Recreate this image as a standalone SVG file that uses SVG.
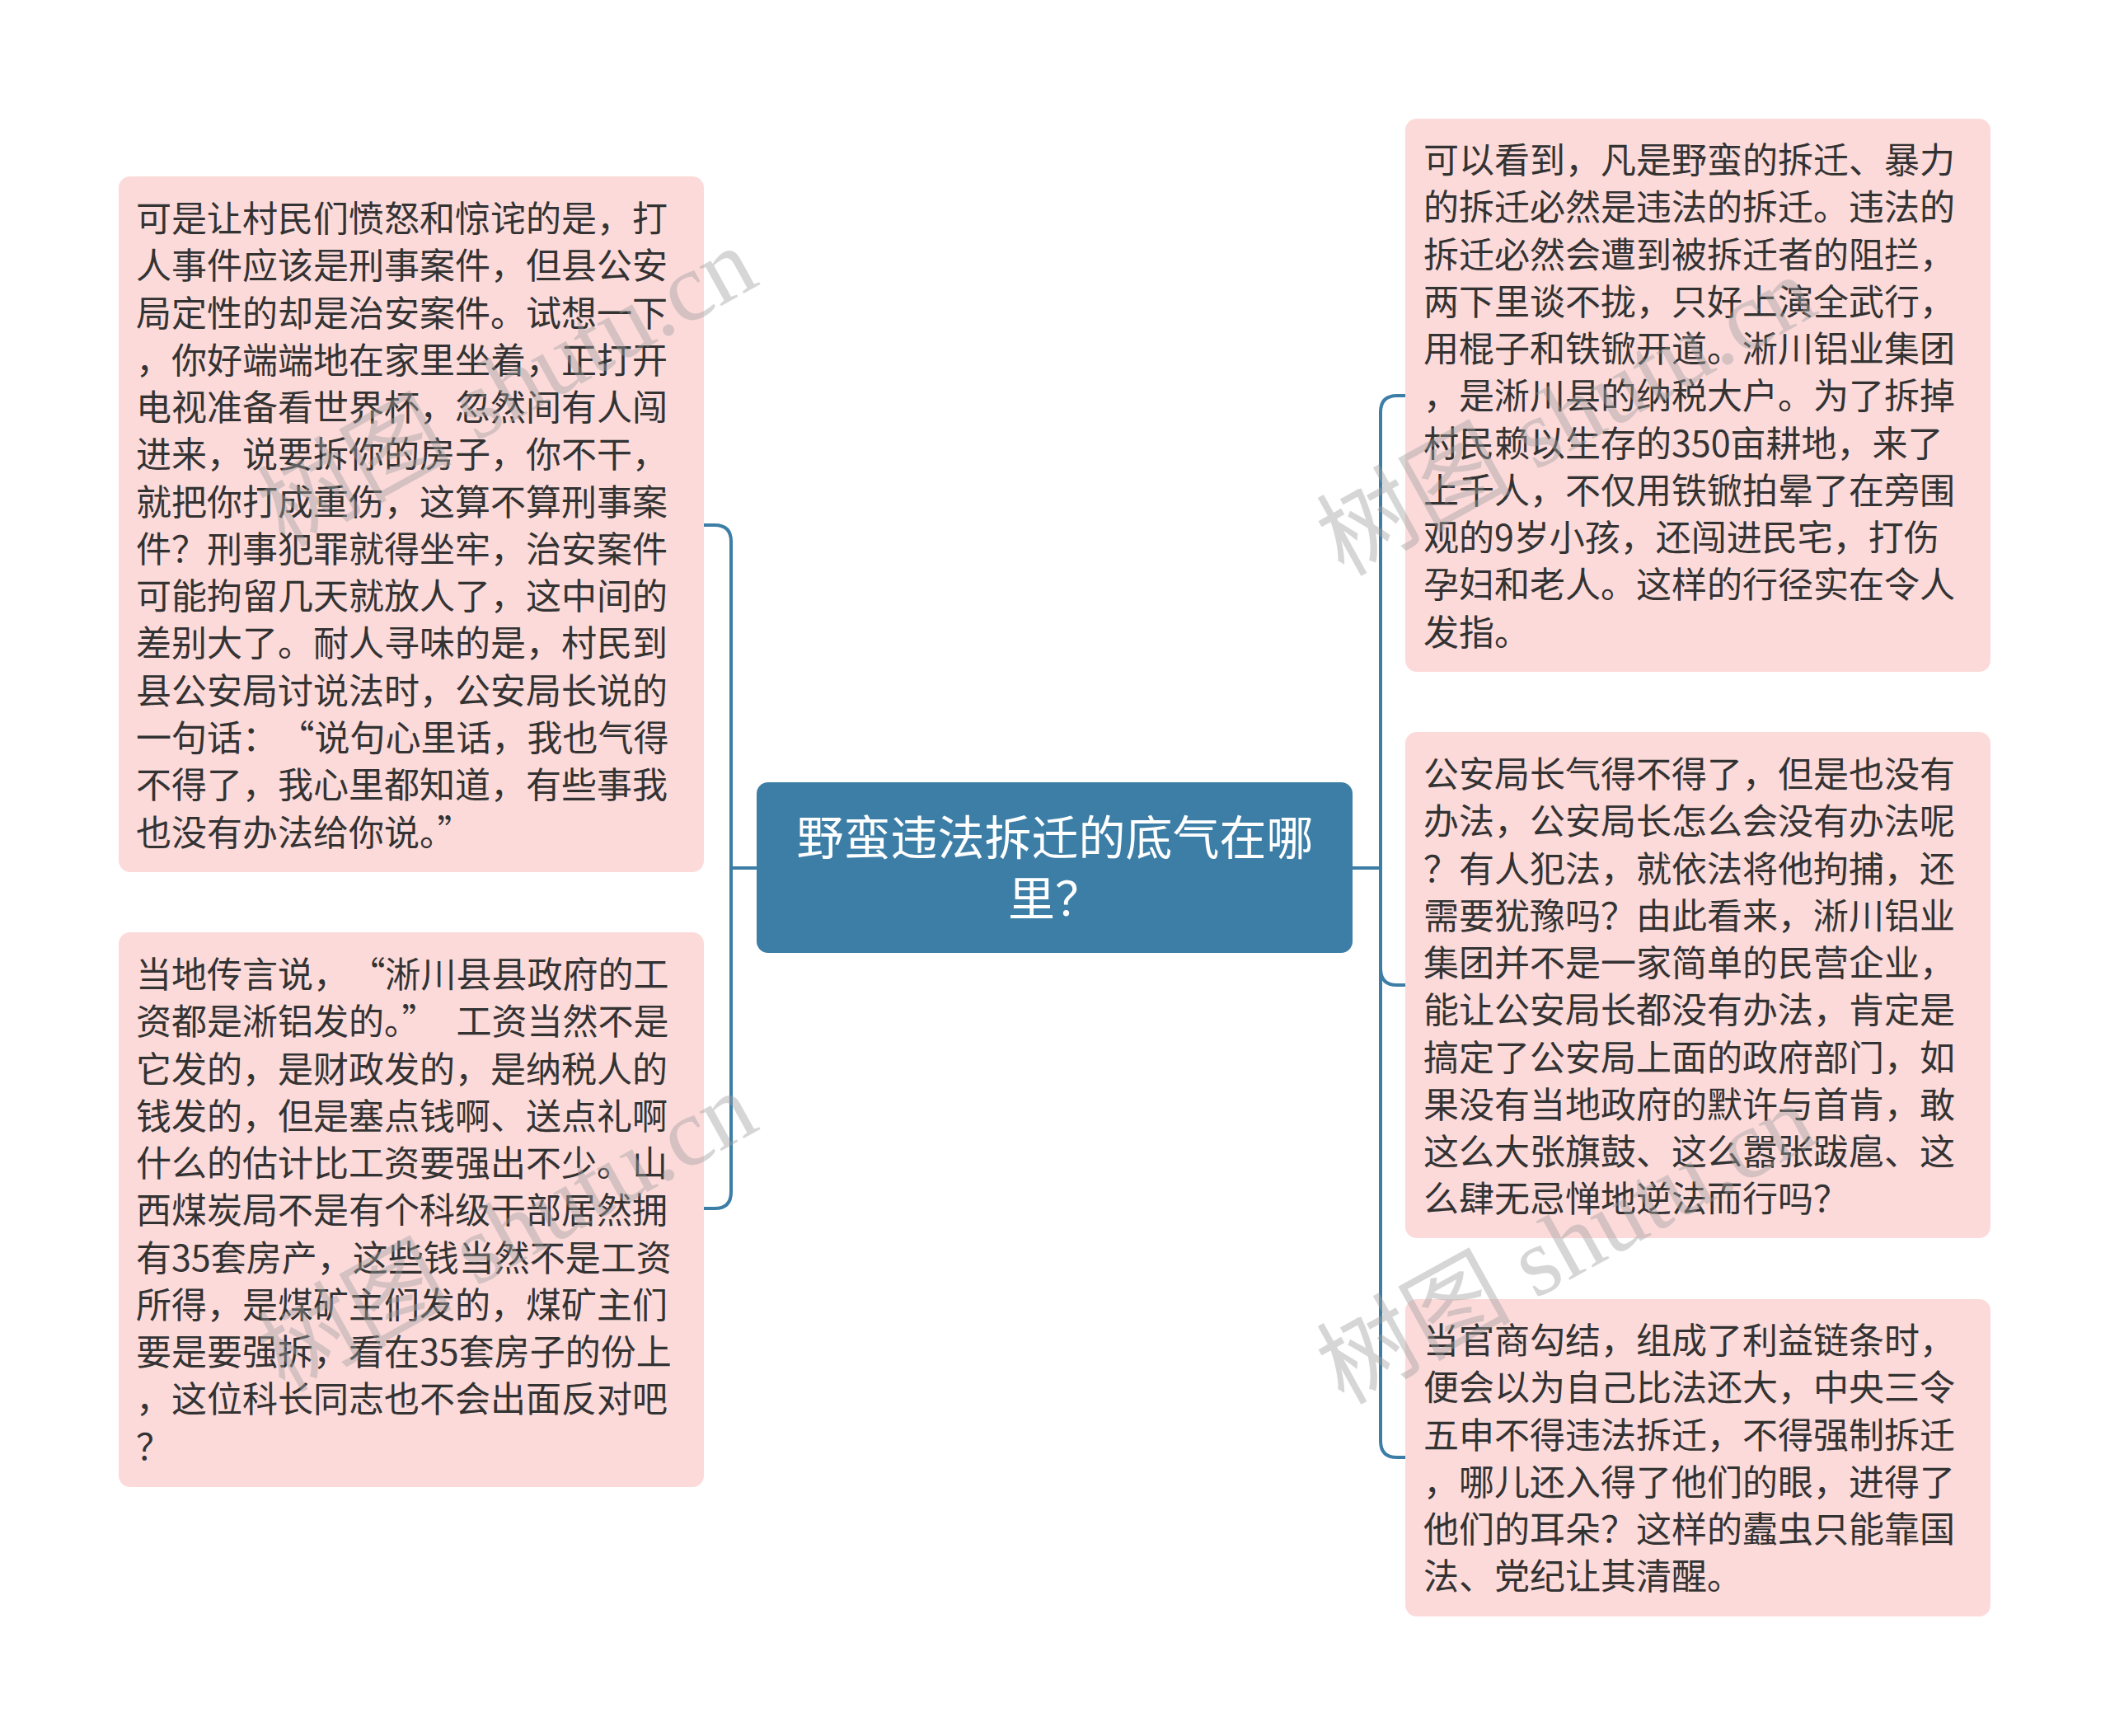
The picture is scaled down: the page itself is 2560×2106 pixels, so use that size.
<svg xmlns="http://www.w3.org/2000/svg" width="2560" height="2106" viewBox="0 0 2560 2106" lang="zh-CN">
<style>
.bg{fill:#ffffff}
.leaf{fill:#fcdada}
.root{fill:#3d7ea6}
.t{font-family:"Noto Sans CJK SC","Noto Sans",sans-serif;font-size:43px;fill:#333333}
.rt{font-family:"Noto Sans CJK SC","Noto Sans",sans-serif;font-size:57px;fill:#ffffff;text-anchor:middle}
.conn{fill:none;stroke:#3d7ea6;stroke-width:4}
.wm{font-family:"Liberation Serif","Noto Sans CJK SC",serif;font-size:118px;fill:#a0a0a0;opacity:0.42}
</style>
<rect class="bg" x="0" y="0" width="2560" height="2106"/>
<g id="connectors">
<path class="conn" d="M918 1053 H887"/>
<path class="conn" d="M854 637 H867 Q887 637 887 657 V1446 Q887 1466 867 1466 H854"/>
<path class="conn" d="M1641 1053 H1675"/>
<path class="conn" d="M1705 480 H1695 Q1675 480 1675 500 V1748 Q1675 1768 1695 1768 H1705"/>
<path class="conn" d="M1675 1175 Q1675 1195 1695 1195 H1705"/>
</g>
<g id="root">
<rect class="root" x="918" y="949" width="723" height="207" rx="14"/>
<text class="rt" x="1280" y="1037">野蛮违法拆迁的底气在哪</text>
<text class="rt" x="1280" y="1111">里？</text>
</g>
<g id="node-left-1">
<rect class="leaf" x="144" y="214" width="710" height="844" rx="14"/>
<text class="t" x="165" y="281">
<tspan x="165" dy="0">可是让村民们愤怒和惊诧的是，打</tspan>
<tspan x="165" dy="57.27">人事件应该是刑事案件，但县公安</tspan>
<tspan x="165" dy="57.27">局定性的却是治安案件。试想一下</tspan>
<tspan x="165" dy="57.27">，你好端端地在家里坐着，正打开</tspan>
<tspan x="165" dy="57.27">电视准备看世界杯，忽然间有人闯</tspan>
<tspan x="165" dy="57.27">进来，说要拆你的房子，你不干，</tspan>
<tspan x="165" dy="57.27">就把你打成重伤，这算不算刑事案</tspan>
<tspan x="165" dy="57.27">件？刑事犯罪就得坐牢，治安案件</tspan>
<tspan x="165" dy="57.27">可能拘留几天就放人了，这中间的</tspan>
<tspan x="165" dy="57.27">差别大了。耐人寻味的是，村民到</tspan>
<tspan x="165" dy="57.27">县公安局讨说法时，公安局长说的</tspan>
<tspan x="165" dy="57.27">一句话：<tspan dx="23">“</tspan>说句心里话，我也气得</tspan>
<tspan x="165" dy="57.27">不得了，我心里都知道，有些事我</tspan>
<tspan x="165" dy="57.27">也没有办法给你说。”</tspan>
</text>
</g>
<g id="node-left-2">
<rect class="leaf" x="144" y="1131" width="710" height="673" rx="14"/>
<text class="t" x="165" y="1198">
<tspan x="165" dy="0">当地传言说，<tspan dx="23">“</tspan>淅川县县政府的工</tspan>
<tspan x="165" dy="57.27">资都是淅铝发的。”<tspan dx="23">工</tspan>资当然不是</tspan>
<tspan x="165" dy="57.27">它发的，是财政发的，是纳税人的</tspan>
<tspan x="165" dy="57.27">钱发的，但是塞点钱啊、送点礼啊</tspan>
<tspan x="165" dy="57.27">什么的估计比工资要强出不少。山</tspan>
<tspan x="165" dy="57.27">西煤炭局不是有个科级干部居然拥</tspan>
<tspan x="165" dy="57.27">有35套房产，这些钱当然不是工资</tspan>
<tspan x="165" dy="57.27">所得，是煤矿主们发的，煤矿主们</tspan>
<tspan x="165" dy="57.27">要是要强拆，看在35套房子的份上</tspan>
<tspan x="165" dy="57.27">，这位科长同志也不会出面反对吧</tspan>
<tspan x="165" dy="57.27">？</tspan>
</text>
</g>
<g id="node-right-1">
<rect class="leaf" x="1705" y="144" width="710" height="671" rx="14"/>
<text class="t" x="1727" y="210">
<tspan x="1727" dy="0">可以看到，凡是野蛮的拆迁、暴力</tspan>
<tspan x="1727" dy="57.27">的拆迁必然是违法的拆迁。违法的</tspan>
<tspan x="1727" dy="57.27">拆迁必然会遭到被拆迁者的阻拦，</tspan>
<tspan x="1727" dy="57.27">两下里谈不拢，只好上演全武行，</tspan>
<tspan x="1727" dy="57.27">用棍子和铁锨开道。淅川铝业集团</tspan>
<tspan x="1727" dy="57.27">，是淅川县的纳税大户。为了拆掉</tspan>
<tspan x="1727" dy="57.27">村民赖以生存的350亩耕地，来了</tspan>
<tspan x="1727" dy="57.27">上千人，不仅用铁锨拍晕了在旁围</tspan>
<tspan x="1727" dy="57.27">观的9岁小孩，还闯进民宅，打伤</tspan>
<tspan x="1727" dy="57.27">孕妇和老人。这样的行径实在令人</tspan>
<tspan x="1727" dy="57.27">发指。</tspan>
</text>
</g>
<g id="node-right-2">
<rect class="leaf" x="1705" y="888" width="710" height="614" rx="14"/>
<text class="t" x="1727" y="955">
<tspan x="1727" dy="0">公安局长气得不得了，但是也没有</tspan>
<tspan x="1727" dy="57.27">办法，公安局长怎么会没有办法呢</tspan>
<tspan x="1727" dy="57.27">？有人犯法，就依法将他拘捕，还</tspan>
<tspan x="1727" dy="57.27">需要犹豫吗？由此看来，淅川铝业</tspan>
<tspan x="1727" dy="57.27">集团并不是一家简单的民营企业，</tspan>
<tspan x="1727" dy="57.27">能让公安局长都没有办法，肯定是</tspan>
<tspan x="1727" dy="57.27">搞定了公安局上面的政府部门，如</tspan>
<tspan x="1727" dy="57.27">果没有当地政府的默许与首肯，敢</tspan>
<tspan x="1727" dy="57.27">这么大张旗鼓、这么嚣张跋扈、这</tspan>
<tspan x="1727" dy="57.27">么肆无忌惮地逆法而行吗？</tspan>
</text>
</g>
<g id="node-right-3">
<rect class="leaf" x="1705" y="1576" width="710" height="385" rx="14"/>
<text class="t" x="1727" y="1642">
<tspan x="1727" dy="0">当官商勾结，组成了利益链条时，</tspan>
<tspan x="1727" dy="57.27">便会以为自己比法还大，中央三令</tspan>
<tspan x="1727" dy="57.27">五申不得违法拆迁，不得强制拆迁</tspan>
<tspan x="1727" dy="57.27">，哪儿还入得了他们的眼，进得了</tspan>
<tspan x="1727" dy="57.27">他们的耳朵？这样的蠹虫只能靠国</tspan>
<tspan x="1727" dy="57.27">法、党纪让其清醒。</tspan>
</text>
</g>
<g id="watermarks">
<text class="wm" transform="translate(345 665) rotate(-29)">树图 shutu.cn</text>
<text class="wm" transform="translate(345 1690) rotate(-29)">树图 shutu.cn</text>
<text class="wm" transform="translate(1630 700) rotate(-29)">树图 shutu.cn</text>
<text class="wm" transform="translate(1630 1705) rotate(-29)">树图 shutu.cn</text>
</g>
</svg>
